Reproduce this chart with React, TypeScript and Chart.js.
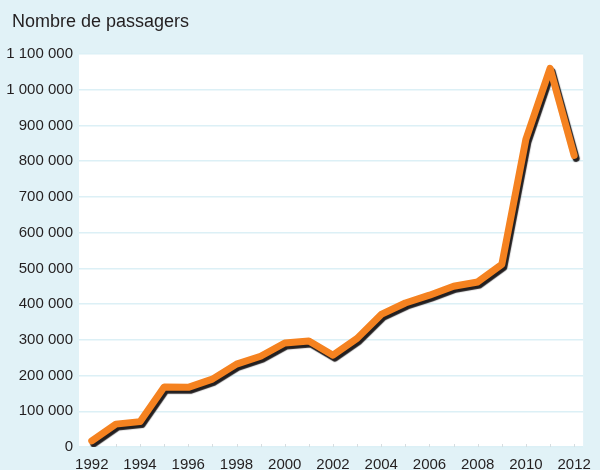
import React, { useEffect, useRef } from "react";
import { Chart, registerables } from "chart.js";

Chart.register(...registerables);

const years = [1992, 1993, 1994, 1995, 1996, 1997, 1998, 1999, 2000, 2001, 2002, 2003, 2004, 2005, 2006, 2007, 2008, 2009, 2010, 2011, 2012];
const passengers = [17000, 64000, 71000, 168000, 167000, 190000, 232000, 254000, 291000, 297000, 257000, 304000, 371000, 403000, 425000, 450000, 462000, 511000, 862000, 1060000, 816000];
const yAxisTitle = "Nombre de passagers";
const yMax = 1100000;
const yStep = 100000;

const BG = "#e1f2f7";
const ORANGE = "#f58220";
const DARK = "#231f20";

function fmt(v: number): string {
  return Math.round(v).toString().replace(/\B(?=(\d{3})+(?!\d))/g, " ");
}

export default function App() {
  const ref = useRef<HTMLCanvasElement | null>(null);
  useEffect(() => {
    if (!ref.current) return;
    const bgPlugin = {
      id: "bgPlugin",
      beforeDraw(chart: any) {
        const { ctx, chartArea, width, height } = chart;
        ctx.save();
        ctx.fillStyle = BG;
        ctx.fillRect(0, 0, width, height);
        ctx.fillStyle = "#ffffff";
        ctx.fillRect(chartArea.left, chartArea.top, chartArea.right - chartArea.left, chartArea.bottom - chartArea.top);
        ctx.fillStyle = DARK;
        ctx.font = "18px 'Liberation Sans', Arial, sans-serif";
        ctx.textBaseline = "alphabetic";
        ctx.textAlign = "left";
        ctx.fillText(yAxisTitle, 12, 27);
        ctx.restore();
      },
      beforeDatasetsDraw(chart: any) {
        const { ctx, chartArea, scales } = chart;
        ctx.save();
        ctx.strokeStyle = "#d6dde0";
        ctx.lineWidth = 1;
        for (const y of years) {
          const x = Math.round(scales.x.getPixelForValue(y)) + 0.5;
          ctx.beginPath();
          ctx.moveTo(x, chartArea.bottom - 3);
          ctx.lineTo(x, chartArea.bottom);
          ctx.stroke();
        }
        ctx.restore();
      },
      beforeDatasetDraw(chart: any) {
        const ctx = chart.ctx;
        ctx.save();
        ctx.shadowColor = DARK;
        ctx.shadowOffsetX = 2;
        ctx.shadowOffsetY = 3;
        ctx.shadowBlur = 1;
      },
      afterDatasetDraw(chart: any) {
        chart.ctx.restore();
      },
    };
    const chart = new Chart(ref.current, {
      type: "line",
      data: {
        datasets: [
          {
            data: years.map((y, i) => ({ x: y, y: passengers[i] })),
            borderColor: ORANGE,
            borderWidth: 7,
            borderCapStyle: "round",
            borderJoinStyle: "round",
            pointRadius: 0,
            tension: 0,
            fill: false,
          },
        ],
      },
      options: {
        animation: false,
        responsive: false,
        maintainAspectRatio: false,
        layout: { padding: { top: 54, right: 7, left: 0, bottom: 0 } },
        plugins: { legend: { display: false }, tooltip: { enabled: false } },
        scales: {
          x: {
            type: "linear",
            min: 1991.47,
            max: 2012.37,
            afterFit(scale: any) {
              scale.height = 23;
            },
            ticks: {
              stepSize: 1,
              includeBounds: false,
              autoSkip: false,
              maxRotation: 0,
              padding: 9,
              color: DARK,
              font: { size: 15, family: "'Liberation Sans', Arial, sans-serif" },
              callback: (v: any) => (Number(v) % 2 === 0 ? String(v) : ""),
            },
            grid: { display: false, drawTicks: false },
            border: { display: false },
          },
          y: {
            min: 0,
            max: yMax,
            afterFit(scale: any) {
              scale.width = 79;
            },
            ticks: {
              stepSize: yStep,
              padding: 6,
              color: DARK,
              font: { size: 15, family: "'Liberation Sans', Arial, sans-serif" },
              callback: (v: any) => fmt(Number(v)),
            },
            grid: { color: "#dcf0f6", lineWidth: 1.5, drawTicks: false },
            border: { display: false },
          },
        },
      },
      plugins: [bgPlugin],
    } as any);
    return () => chart.destroy();
  }, []);
  return (
    <div style={{ position: "fixed", left: 0, top: 0, width: 600, height: 470, background: BG }}>
      <canvas ref={ref} width={600} height={470} style={{ display: "block", width: 600, height: 470 }} />
    </div>
  );
}
